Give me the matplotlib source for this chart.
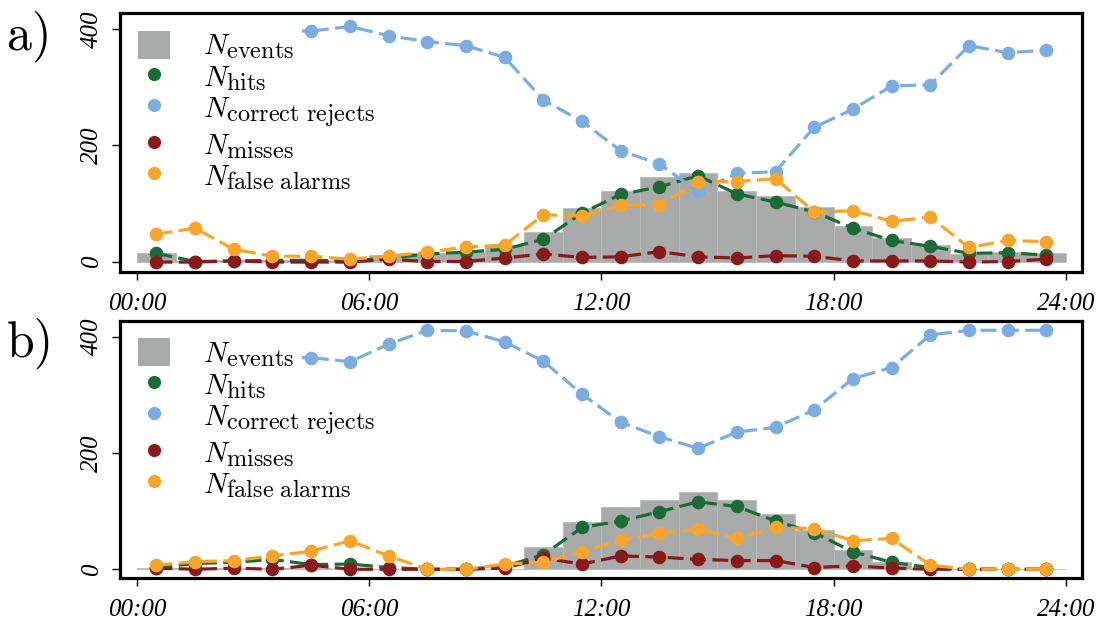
import matplotlib
matplotlib.use("Agg")
import matplotlib.pyplot as plt
import matplotlib._mathtext as _mt
from matplotlib.patches import Patch, Rectangle
from matplotlib.lines import Line2D
import numpy as np

plt.rcParams['mathtext.fontset'] = 'cm'
_mt.SHRINK_FACTOR = 0.83

hours = np.arange(24) + 0.5
tick_pos = [0, 6, 12, 18, 24]
tick_labels = ["00:00", "06:00", "12:00", "18:00", "24:00"]
ytick_pos = [0, 200, 400]

# Panel a
events_a = [15, 2, 4, 4, 4, 3, 12, 15, 18, 29, 51, 92, 122, 146, 152, 122, 113, 94, 61, 41, 29, 14, 17, 16]
hits_a = [15, 1, 2, 3, 3, 2, 7, 14, 17, 22, 39, 84, 116, 129, 148, 117, 103, 86, 58, 37, 27, 15, 16, 12]
rejects_a = [395, 398, 398, 397, 396, 404, 388, 378, 371, 351, 278, 241, 191, 168, 121, 152, 155, 231, 262, 302, 304, 371, 359, 363]
misses_a = [0, 0, 2, 0, 0, 0, 5, 1, 1, 7, 14, 8, 9, 18, 9, 7, 11, 10, 2, 2, 2, 0, 1, 5]
false_a = [48, 58, 22, 10, 10, 5, 10, 17, 26, 29, 81, 79, 98, 98, 137, 138, 143, 86, 88, 70, 77, 25, 37, 35]

# Panel b
events_b = [3, 3, 3, 3, 3, 0, 0, 0, 0, 0, 39, 82, 107, 120, 133, 120, 95, 68, 34, 12, 3, 0, 0, 0]
hits_b = [3, 10, 12, 17, 8, 9, 3, 0, 0, 5, 25, 72, 83, 99, 116, 108, 83, 63, 30, 12, 3, 0, 0, 0]
rejects_b = [365, 366, 366, 365, 364, 357, 387, 411, 410, 391, 358, 301, 253, 228, 208, 236, 244, 274, 328, 347, 403, 411, 411, 411]
misses_b = [2, 0, 2, 0, 7, 0, 0, 0, 0, 2, 19, 9, 23, 21, 17, 15, 15, 3, 6, 2, 0, 0, 0, 0]
false_b = [7, 13, 15, 23, 31, 49, 23, 0, 0, 9, 12, 30, 50, 62, 69, 53, 72, 70, 49, 53, 7, 0, 0, 0]

C_BAR = "#a9abab"
C_HIT = "#1b6b37"
C_REJ = "#7badE0"
C_MISS = "#8a1a1a"
C_FA = "#f8a52a"

labels = [r"$N_{\mathrm{events}}$", r"$N_{\mathrm{hits}}$",
          r"$N_{\mathrm{correct\ rejects}}$", r"$N_{\mathrm{misses}}$",
          r"$N_{\mathrm{false\ alarms}}$"]

W, H = 1106, 626
fig = plt.figure(figsize=(W/100, H/100), dpi=100)
ax_a = fig.add_axes([120/W, 1-272/H, (1082-120)/W, (272-13)/H])
ax_b = fig.add_axes([120/W, 1-578/H, (1082-120)/W, (578-321)/H])

tick_font = dict(family="Liberation Serif", style="italic", size=18)

def draw(ax, ev, hi, rj, mi, fa, ylo, ax_top_px, ax_bot_px):
    ax.bar(hours, ev, width=1.0, color=C_BAR, edgecolor="#b9bbbb", linewidth=0.6, zorder=1)
    for vals, c in [(hi, C_HIT), (rj, C_REJ), (mi, C_MISS), (fa, C_FA)]:
        ax.plot(hours, vals, color=c, lw=2.3, dashes=(5, 2), marker='o', ms=9.8,
                markeredgewidth=0, zorder=3)
    ax.set_xlim(-0.44, 24.42)
    ax.set_ylim(ylo, 427)
    ax.set_xticks(tick_pos)
    ax.set_xticklabels(tick_labels, fontdict=tick_font)
    ax.set_yticks(ytick_pos)
    ax.set_yticklabels([str(v) for v in ytick_pos], fontdict=tick_font, rotation=90, va='center')
    for s in ax.spines.values():
        s.set_linewidth(2.3)
        s.set_zorder(7)
    ax.tick_params(axis='both', direction='out', length=6, width=1, pad=6)
    ax.tick_params(axis='x', pad=9)
    # white legend background box (narrower than the labels, as in the original)
    hpx = ax_bot_px - ax_top_px
    box_w = (302 - 120) / 962
    box_h = (203 - 13) / hpx
    ax.add_patch(Rectangle((0, 1 - box_h), box_w, box_h, transform=ax.transAxes,
                           facecolor='white', edgecolor='none', zorder=4))
    handles = [Patch(facecolor=C_BAR, edgecolor='none')]
    for c in [C_HIT, C_REJ, C_MISS, C_FA]:
        handles.append(Line2D([], [], linestyle='none', marker='o', ms=9.5,
                              markeredgewidth=0, color=c))
    leg = ax.legend(handles, labels, loc='upper left', bbox_to_anchor=(0.0, 1.0),
                    fontsize=21, frameon=False, handlelength=1.1, handleheight=1.1,
                    handletextpad=1.15, labelspacing=0.02, borderaxespad=0.25,
                    borderpad=0.35)
    leg.set_zorder(5)

draw(ax_a, events_a, hits_a, rejects_a, misses_a, false_a, -17, 13, 272)
draw(ax_b, events_b, hits_b, rejects_b, misses_b, false_b, -15, 321, 578)

fig.text(0.006, 0.942, "a)", fontsize=36, family="cmr10", va='center', ha='left')
fig.text(0.006, 0.452, "b)", fontsize=36, family="cmr10", va='center', ha='left')

fig.savefig("out.png", dpi=100)
